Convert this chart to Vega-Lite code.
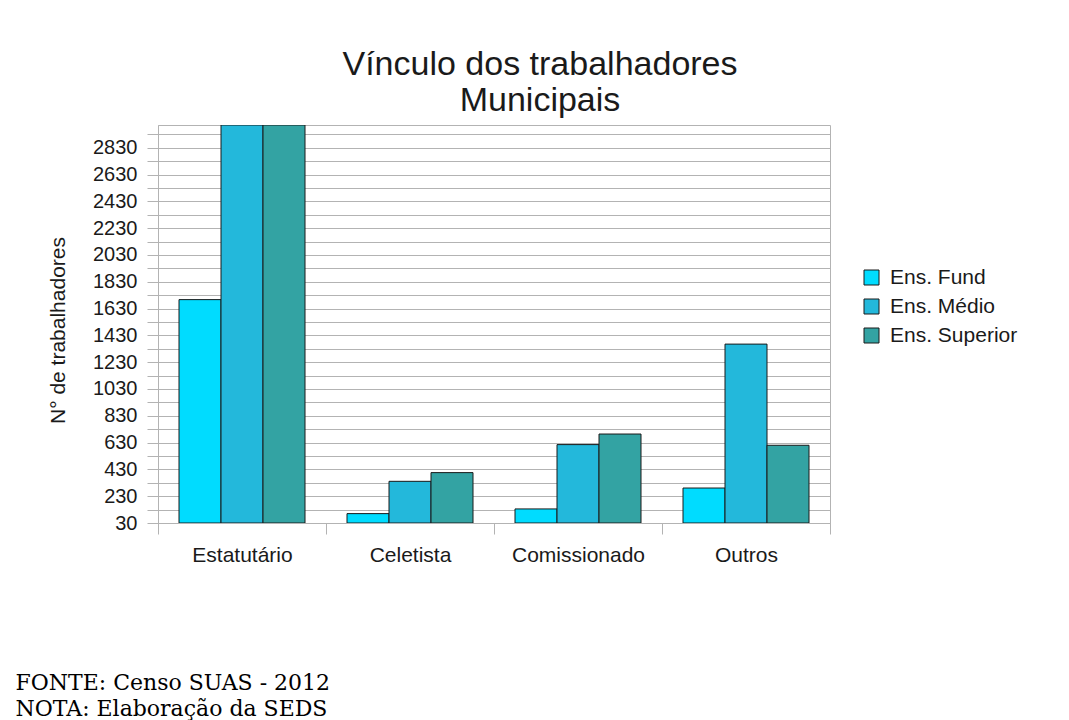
{
  "$schema": "https://vega.github.io/schema/vega-lite/v6.json",
  "autosize": "none",
  "width": 672,
  "height": 398,
  "padding": {"left": 158, "top": 125, "right": 239, "bottom": 197},
  "background": "white",
  "title": {
    "text": ["Vínculo dos trabalhadores", "Municipais"],
    "font": "Liberation Sans",
    "fontSize": 34,
    "fontWeight": "normal",
    "color": "#1a1a1a",
    "anchor": "middle",
    "dx": 46,
    "lineHeight": 36,
    "offset": 6
  },
  "data": {
    "values": [
      {"vinculo": "Estatutário", "nivel": "Ens. Fund", "valor": 1697},
      {"vinculo": "Estatutário", "nivel": "Ens. Médio", "valor": 3000},
      {"vinculo": "Estatutário", "nivel": "Ens. Superior", "valor": 3000},
      {"vinculo": "Celetista", "nivel": "Ens. Fund", "valor": 100},
      {"vinculo": "Celetista", "nivel": "Ens. Médio", "valor": 341},
      {"vinculo": "Celetista", "nivel": "Ens. Superior", "valor": 406},
      {"vinculo": "Comissionado", "nivel": "Ens. Fund", "valor": 135},
      {"vinculo": "Comissionado", "nivel": "Ens. Médio", "valor": 615},
      {"vinculo": "Comissionado", "nivel": "Ens. Superior", "valor": 694},
      {"vinculo": "Outros", "nivel": "Ens. Fund", "valor": 291},
      {"vinculo": "Outros", "nivel": "Ens. Médio", "valor": 1365},
      {"vinculo": "Outros", "nivel": "Ens. Superior", "valor": 610}
    ]
  },
  "mark": {"type": "bar", "stroke": "#1a1a1a", "strokeWidth": 1, "clip": true, "opacity": 1},
  "encoding": {
    "x": {
      "field": "vinculo",
      "type": "nominal",
      "sort": ["Estatutário", "Celetista", "Comissionado", "Outros"],
      "scale": {"paddingInner": 0, "paddingOuter": 0},
      "axis": {
        "tickBand": "extent",
        "labelAngle": 0,
        "labelFont": "Liberation Sans",
        "labelFontSize": 21,
        "labelColor": "#1a1a1a",
        "labelPadding": 10,
        "tickSize": 11,
        "tickColor": "#b3b3b3",
        "domainColor": "#b3b3b3",
        "grid": false,
        "title": ["FONTE: Censo SUAS - 2012", "NOTA: Elaboração da SEDS"],
        "titleFont": "DejaVu Serif",
        "titleFontSize": 22,
        "titleFontWeight": "normal",
        "titleColor": "#000000",
        "titleAlign": "left",
        "titleAnchor": "start",
        "titleBaseline": "alphabetic",
        "titleX": -143,
        "titleY": 166,
        "titleLineHeight": 26
      }
    },
    "xOffset": {
      "field": "nivel",
      "type": "nominal",
      "sort": ["Ens. Fund", "Ens. Médio", "Ens. Superior"],
      "scale": {"paddingInner": 0, "paddingOuter": 0.5}
    },
    "y": {
      "field": "valor",
      "type": "quantitative",
      "scale": {"domain": [30, 3000], "zero": false, "nice": false},
      "axis": {
        "values": [30,130,230,330,430,530,630,730,830,930,1030,1130,1230,1330,1430,1530,1630,1730,1830,1930,2030,2130,2230,2330,2430,2530,2630,2730,2830,2930],
        "labelExpr": "(datum.value - 30) % 200 == 0 ? datum.label : ''",
        "format": "d",
        "labelFont": "Liberation Sans",
        "labelFontSize": 20,
        "labelColor": "#1a1a1a",
        "labelPadding": 10,
        "tickSize": 11,
        "tickColor": "#b3b3b3",
        "domainColor": "#b3b3b3",
        "grid": true,
        "gridColor": "#b3b3b3",
        "gridOpacity": 1,
        "labelOverlap": false,
        "title": "N° de trabalhadores",
        "titleFont": "Liberation Sans",
        "titleFontSize": 21,
        "titleFontWeight": "normal",
        "titleColor": "#1a1a1a",
        "titlePadding": 24,
        "titleY": 205
      }
    },
    "y2": {"datum": 30},
    "fill": {
      "field": "nivel",
      "type": "nominal",
      "sort": ["Ens. Fund", "Ens. Médio", "Ens. Superior"],
      "scale": {"range": ["#00dcff", "#23b8db", "#33a3a3"]},
      "legend": {
        "title": null,
        "orient": "none",
        "legendX": 703,
        "legendY": 142,
        "symbolType": "square",
        "symbolSize": 225,
        "symbolStrokeColor": "#1a1a1a",
        "symbolStrokeWidth": 1,
        "symbolOpacity": 1,
        "labelFont": "Liberation Sans",
        "labelFontSize": 21,
        "labelColor": "#1a1a1a",
        "labelOffset": 8,
        "rowPadding": 7,
        "padding": 0
      }
    }
  },
  "config": {
    "view": {"stroke": "#b3b3b3", "strokeWidth": 1}
  }
}
